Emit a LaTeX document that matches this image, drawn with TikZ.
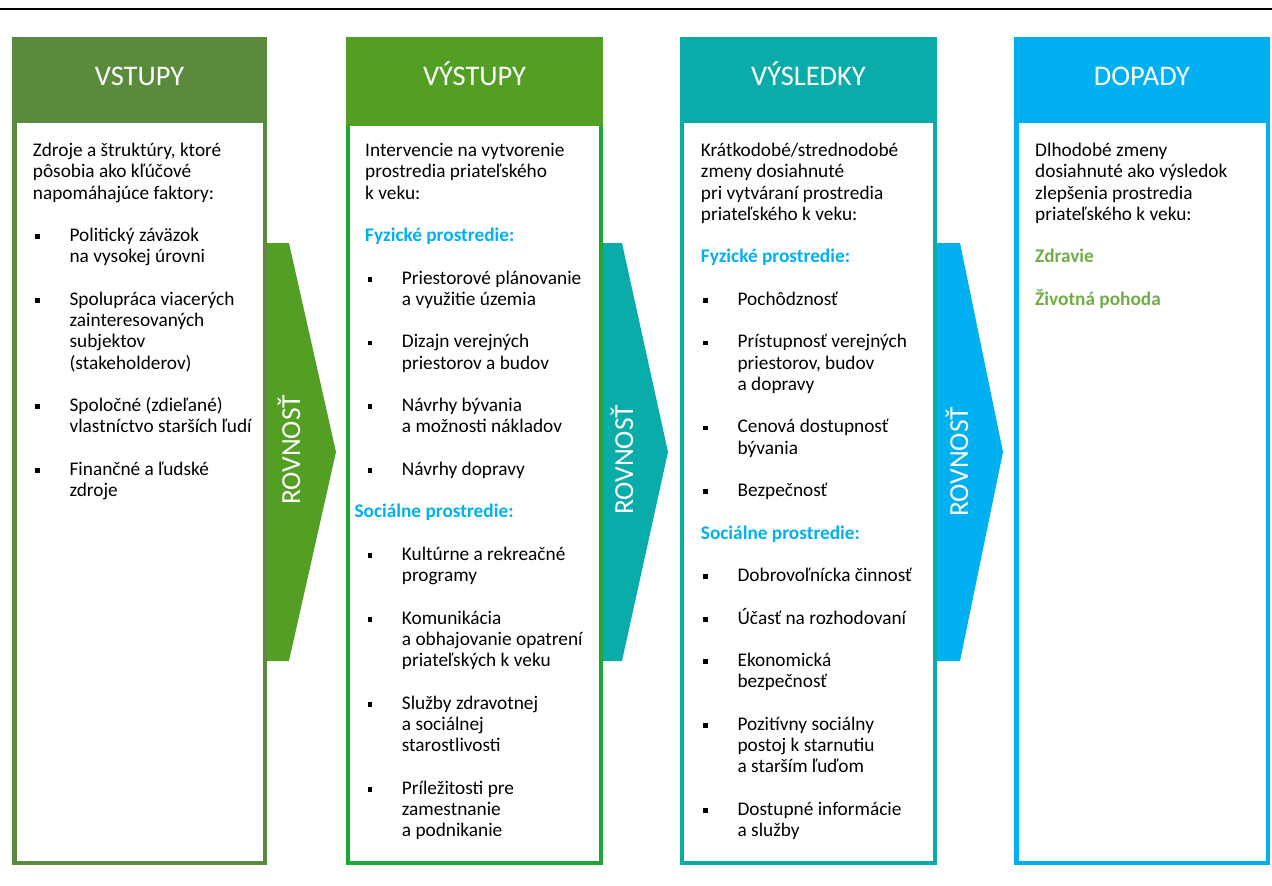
\documentclass[tikz,border=0pt]{standalone}
\usepackage{fontspec}
\setmainfont{Carlito}
\definecolor{cone}{HTML}{5A8A3B}
\definecolor{ctwoh}{HTML}{529F23}
\definecolor{ctwob}{HTML}{1FA638}
\definecolor{cthree}{HTML}{0AACAA}
\definecolor{cfour}{HTML}{00B0F0}
\definecolor{hdblue}{HTML}{00B0F0}
\definecolor{grn}{HTML}{70AD47}
\newcommand\bul{\makebox[36.7pt][l]{\hspace*{2.3pt}\rule[2.6pt]{4.6pt}{4.6pt}}}
\newcommand\ind{\hspace*{36.7pt}}
\newcommand\hd[1]{\textcolor{hdblue}{\bfseries #1}}
\newcommand\gr[1]{\textcolor{grn}{\bfseries #1}}
\def\bl{21.25pt}
\tikzset{
  body/.style={anchor=north west, inner sep=0pt, align=left,
    font={\fontsize{19.3}{21.25}\selectfont\lineskiplimit=-100pt\lineskip=0pt}},
  head/.style={anchor=base, inner sep=0pt, text=white, font={\fontsize{28.4}{30}\selectfont}},
  rot/.style={anchor=base, inner sep=0pt, rotate=90, text=white, font={\fontsize{27.5}{30}\selectfont}},
}
\begin{document}
\begin{tikzpicture}[x=1pt,y=-1pt]
\useasboundingbox (0,0) rectangle (1272,886);
\draw[line width=1.6pt] (0,9) -- (1272,9);
% boxes
\draw[cone, line width=4.5pt] (14.25,39.25) rectangle (264.75,862.75);
\fill[cone] (12,37) rectangle (267,123);
\draw[ctwob, line width=4.3pt] (348.15,39.15) rectangle (600.85,862.85);
\fill[ctwoh] (346,37) rectangle (603,126);
\draw[cthree, line width=4.3pt] (682.15,39.15) rectangle (934.85,862.85);
\fill[cthree] (680,37) rectangle (937,123);
\draw[cfour, line width=4.5pt] (1016.25,39.25) rectangle (1267.75,862.75);
\fill[cfour] (1014,37) rectangle (1270,123);
% headers
\node[head] (h1) at (139.5,85) {VSTUPY};
\node[head] (h2) at (474.5,85) {VÝSTUPY};
\node[head] (h3) at (808.5,85) {VÝSLEDKY};
\node[head] (h4) at (1142,85) {DOPADY};
% arrows
\fill[ctwoh] (267,243) -- (289,243) -- (336,452) -- (289,661) -- (267,661) -- cycle;
\fill[cthree] (603,243) -- (622,243) -- (668,452) -- (622,661) -- (603,661) -- cycle;
\fill[cfour] (937,243) -- (960,243) -- (1003,452) -- (960,661) -- (937,661) -- cycle;
\node[rot] (r1) at (300,450) {ROVNOSŤ};
\node[rot] (r2) at (633,460) {ROVNOSŤ};
\node[rot] (r3) at (968,462) {ROVNOSŤ};
% texts
\node[body] (t1) at (32.7,141.6) {\strut Zdroje a štruktúry, ktoré\\
\strut pôsobia ako kľúčové\\
\strut napomáhajúce faktory:\\[\bl]
\strut\bul Politický záväzok\\
\strut\ind na vysokej úrovni\\[\bl]
\strut\bul Spolupráca viacerých\\
\strut\ind zainteresovaných\\
\strut\ind subjektov\\
\strut\ind (stakeholderov)\\[\bl]
\strut\bul Spoločné (zdieľané)\\
\strut\ind vlastníctvo starších ľudí\\[\bl]
\strut\bul Finančné a ľudské\\
\strut\ind zdroje};
\node[body] (t2) at (365,141.6) {\strut Intervencie na vytvorenie\\
\strut prostredia priateľského\\
\strut k veku:\\[\bl]
\strut\hd{Fyzické prostredie:}\\[\bl]
\strut\bul Priestorové plánovanie\\
\strut\ind a využitie územia\\[\bl]
\strut\bul Dizajn verejných\\
\strut\ind priestorov a budov\\[\bl]
\strut\bul Návrhy bývania\\
\strut\ind a možnosti nákladov\\[\bl]
\strut\bul Návrhy dopravy\\[\bl]
\strut\hspace*{-10.7pt}\hd{Sociálne prostredie:}\\[\bl]
\strut\bul Kultúrne a rekreačné\\
\strut\ind programy\\[\bl]
\strut\bul Komunikácia\\
\strut\ind a obhajovanie opatrení\\
\strut\ind priateľských k veku\\[\bl]
\strut\bul Služby zdravotnej\\
\strut\ind a sociálnej\\
\strut\ind starostlivosti\\[\bl]
\strut\bul Príležitosti pre\\
\strut\ind zamestnanie\\
\strut\ind a podnikanie};
\node[body] (t3) at (700.7,141.6) {\strut Krátkodobé/strednodobé\\
\strut zmeny dosiahnuté\\
\strut pri vytváraní prostredia\\
\strut priateľského k veku:\\[\bl]
\strut\hd{Fyzické prostredie:}\\[\bl]
\strut\bul Pochôdznosť\\[\bl]
\strut\bul Prístupnosť verejných\\
\strut\ind priestorov, budov\\
\strut\ind a dopravy\\[\bl]
\strut\bul Cenová dostupnosť\\
\strut\ind bývania\\[\bl]
\strut\bul Bezpečnosť\\[\bl]
\strut\hd{Sociálne prostredie:}\\[\bl]
\strut\bul Dobrovoľnícka činnosť\\[\bl]
\strut\bul Účasť na rozhodovaní\\[\bl]
\strut\bul Ekonomická\\
\strut\ind bezpečnosť\\[\bl]
\strut\bul Pozitívny sociálny\\
\strut\ind postoj k starnutiu\\
\strut\ind a starším ľuďom\\[\bl]
\strut\bul Dostupné informácie\\
\strut\ind a služby};
\node[body] (t4) at (1035,141.6) {\strut Dlhodobé zmeny\\
\strut dosiahnuté ako výsledok\\
\strut zlepšenia prostredia\\
\strut priateľského k veku:\\[\bl]
\strut\gr{Zdravie}\\[\bl]
\strut\gr{Životná pohoda}};
\end{tikzpicture}
\end{document}
